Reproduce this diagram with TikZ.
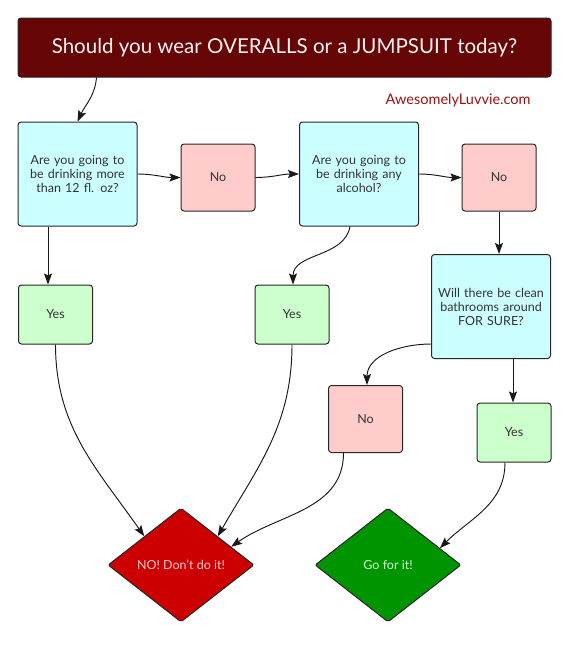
\documentclass[tikz,border=0pt]{standalone}
\usepackage{fontspec}
\setmainfont{Lato}
\usetikzlibrary{shapes.geometric, arrows.meta}
\definecolor{titlered}{HTML}{660505}
\definecolor{sitered}{HTML}{9A1010}
\definecolor{askcyan}{HTML}{CCFFFF}
\definecolor{nopink}{HTML}{FFCCCC}
\definecolor{yesgreen}{HTML}{CCFFCC}
\definecolor{stopred}{HTML}{CC0000}
\definecolor{gogreen}{HTML}{009400}

\begin{document}
\begin{tikzpicture}[x=1pt, y=1pt, >={Stealth[length=11pt, width=8pt, inset=2pt]},
  box/.style={draw=black!85, line width=1pt, rounded corners=3pt, align=center,
    text=black!80, font=\fontsize{12.5}{14}\selectfont},
  askbox/.style={box, fill=askcyan, minimum width=119pt, minimum height=104pt, text width=112pt},
  nobox/.style={box, fill=nopink, minimum width=74pt, minimum height=67pt},
  yesbox/.style={box, fill=yesgreen, minimum width=74pt, minimum height=59pt},
  ending/.style={diamond, draw=black!85, line width=1pt, rounded corners=2pt, inner sep=0pt,
    minimum width=146pt, minimum height=114pt, font=\fontsize{12.5}{14}\selectfont},
  link/.style={->, line width=0.95pt, black!90}]
  \useasboundingbox (0,0) rectangle (570,-646);
  % header
  \node[box, fill=titlered, text=white!95!red, minimum width=533pt, minimum height=59pt,
    font=\fontsize{20.5}{24}\selectfont] (title) at (284.5,-47.5)
    {Should you wear OVERALLS or a JUMPSUIT today?};
  \node[anchor=east, text=sitered, font=\fontsize{14.5}{16}\selectfont] (site) at (534,-100)
    {AwesomelyLuvvie.com};
  % questions and answers
  \node[askbox] (askoz) at (77.5,-174) {Are you going to\\ be drinking more\\ than 12 fl. oz?};
  \node[nobox] (nooz) at (218,-177.5) {No};
  \node[askbox] (askbooze) at (359,-174) {Are you going to\\ be drinking any\\ alcohol?};
  \node[nobox] (nobooze) at (499,-177.5) {No};
  \node[askbox] (askloo) at (491,-306.5) {Will there be clean\\ bathrooms around\\ FOR SURE?};
  \node[yesbox] (yesoz) at (55.5,-314.5) {Yes};
  \node[yesbox] (yesbooze) at (292,-314.5) {Yes};
  \node[nobox] (noloo) at (365.5,-419) {No};
  \node[yesbox] (yesloo) at (514,-432.5) {Yes};
  % verdicts
  \node[ending, fill=stopred, text=nopink] (noway) at (181,-565) {NO! Don't do it!};
  \node[ending, fill=gogreen, text=yesgreen] (goway) at (388,-565) {Go for it!};
  % links
  \draw[link] ([xshift=79pt]title.south west) to[out=-95, in=65] (askoz.north);
  \draw[link] (askoz.east) to[out=0, in=180] (nooz.west);
  \draw[link] (nooz.east) to[out=0, in=180] (askbooze.west);
  \draw[link] (askbooze.east) to[out=0, in=180] (nobooze.west);
  \draw[link] (nobooze.south) -- (nobooze.south |- askloo.north);
  \draw[link] ([xshift=-29.5pt]askoz.south) -- ([xshift=-7.5pt]yesoz.north);
  \draw[link] ([xshift=-9pt]askbooze.south) to[out=-100, in=90] ([xshift=1pt]yesbooze.north);
  \draw[link] ([yshift=-37.5pt]askloo.west) to[out=180, in=90] ([xshift=1.5pt]noloo.north);
  \draw[link] ([xshift=22pt]askloo.south) -- ([xshift=-1pt]yesloo.north);
  \draw[link] (yesoz.south) to[out=-90, in=125] (noway.north west);
  \draw[link] (yesbooze.south) to[out=-90, in=60] (noway.north east);
  \draw[link] ([xshift=-22pt]noloo.south) to[out=-90, in=35] (noway.20);
  \draw[link] ([xshift=-9pt]yesloo.south) to[out=-90, in=45] (goway.18);
\end{tikzpicture}
\end{document}
